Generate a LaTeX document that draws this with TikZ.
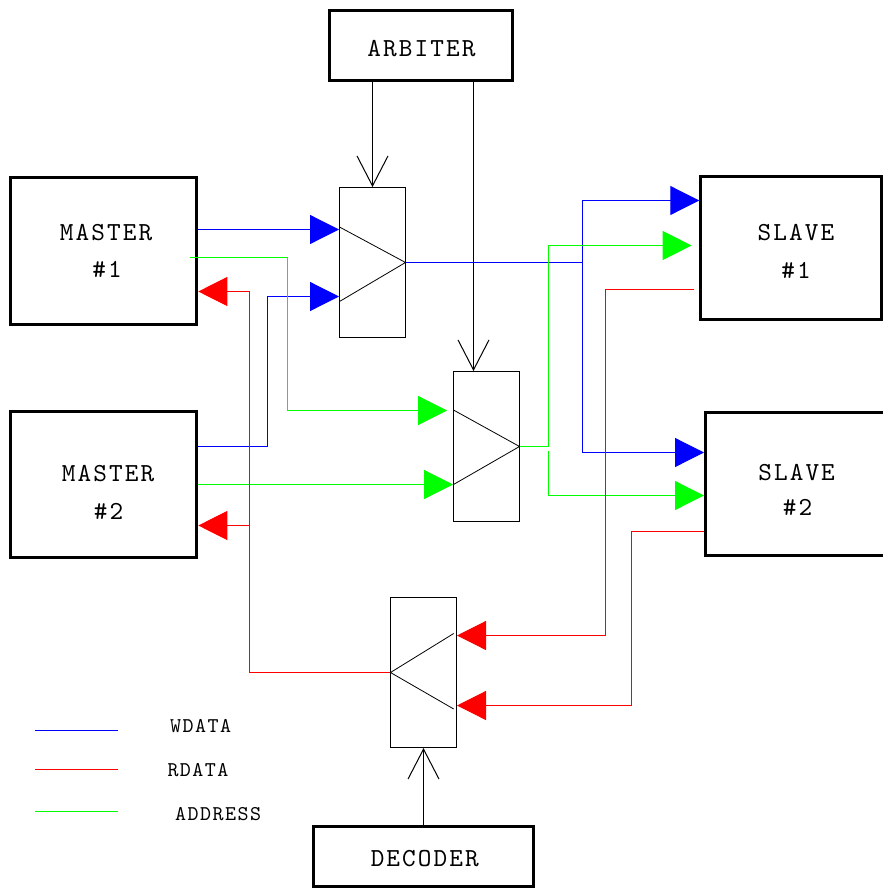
\documentclass[tikz,border=0pt]{standalone}
\usepackage{fontspec}
\usetikzlibrary{arrows.meta}
\newfontfamily\boxfamily{lmmono10-regular.otf}[LetterSpace=8]
\newfontfamily\keyfamily{lmmono10-regular.otf}[LetterSpace=7]
\newcommand{\boxfont}{\boxfamily\fontsize{26}{30}\selectfont}
\newcommand{\keyfont}{\keyfamily\fontsize{21}{25}\selectfont}

\begin{document}
\begin{tikzpicture}[x=1pt,y=-1pt,
    unit/.style={draw,rectangle,line width=3pt,inner sep=0pt},
    mux/.style={draw,rectangle,line width=1pt,inner sep=0pt,minimum width=66pt,minimum height=150pt},
    txt/.style={font=\boxfont,anchor=base,inner sep=0pt},
    key/.style={font=\keyfont,anchor=base west,inner sep=0pt},
    wdata/.style={blue,line width=1.2pt},
    rdata/.style={red,line width=1.2pt},
    addr/.style={green,line width=1.2pt},
    solidtip/.style={-{Triangle[length=29pt,width=29pt]}},
    opentip/.style={line width=1pt,-{Straight Barb[length=30pt,width=31pt]}}]
        \useasboundingbox (0,0) rectangle (883,889);

        % blocks
        \node[unit,minimum width=182.8pt,minimum height=70.8pt] (arb) at (421.1,45.4) {};
        \node[txt] (arbt) at (421.5,56.7) {ARBITER};
        \node[unit,minimum width=186.8pt,minimum height=146.5pt] (m1) at (103.4,250.8) {};
        \node[txt] (m1a) at (106,240) {MASTER};
        \node[txt] (m1b) at (107,277.7) {\#1};
        \node[unit,minimum width=186.6pt,minimum height=146.2pt] (m2) at (103.5,484.4) {};
        \node[txt] (m2a) at (108,481) {MASTER};
        \node[txt] (m2b) at (108.5,519.3) {\#2};
        \node[unit,minimum width=180.5pt,minimum height=143pt] (s1) at (791,247.5) {};
        \node[txt] (s1a) at (796,240.7) {SLAVE};
        \node[txt] (s1b) at (796,278.3) {\#1};
        \node[unit,minimum width=180pt,minimum height=143.1pt] (s2) at (795.5,483.8) {};
        \node[txt] (s2a) at (796.6,480) {SLAVE};
        \node[txt] (s2b) at (797.5,515.7) {\#2};
        \node[unit,minimum width=220pt,minimum height=60pt] (dec) at (423,856.8) {};
        \node[txt] (dect) at (424.8,866) {DECODER};

        % multiplexers
        \node[mux] (mux1) at (372.5,262.5) {};
        \node[mux] (mux2) at (486.5,446.5) {};
        \node[mux] (mux3) at (423.5,672.5) {};
        \draw[line width=0.8pt] (mux1.center) ++(-33,-35.5) -- ++(66,35.5) -- ++(-66,39);
        \draw[line width=0.8pt] (mux2.center) ++(-33,-36.5) -- ++(66,36.5) -- ++(-66,38);
        \draw[line width=0.8pt] (mux3.center) ++(30.2,-39) -- ++(-63.2,39) -- ++(63.2,36.5);

        % select lines
        \draw[opentip] (arb.south -| mux1.north) -- (mux1.north);
        \draw[opentip] (arb.south -| 473.5,0) -- (mux2.north -| 473.5,0);
        \draw[opentip] (dec.north -| mux3.south) -- (mux3.south);

        % write data
        \coordinate (wj) at (582.5,262.5);
        \draw[wdata,solidtip] (m1.east |- 0,229.5) -- (mux1.west |- 0,229.5);
        \draw[wdata,solidtip] (m2.east |- 0,446.5) -| (267.5,296.5) -- (mux1.west |- 0,296.5);
        \draw[wdata] (mux1.east) -- (wj);
        \draw[wdata,solidtip] (wj) |- (s1.west |- 0,200.5);
        \draw[wdata,solidtip] (wj) |- (s2.west |- 0,452.5);

        % address
        \coordinate (ga) at (190,257.5);
        \coordinate (gb) at (548.5,451);
        \draw[addr,solidtip] (ga) -| (287.5,410.5) -- ([xshift=-6pt]mux2.west |- 0,410.5);
        \draw[addr,solidtip] (m2.east |- 0,484.5) -- (mux2.west |- 0,484.5);
        \draw[addr,solidtip] (mux2.east) -| (548.5,245.5) -- ([xshift=-7.6pt]s1.west |- 0,245.5);
        \draw[addr,solidtip] (gb) |- (s2.west |- 0,495.5);

        % read data
        \coordinate (rj) at (249.5,525.5);
        \draw[rdata,solidtip] (mux3.west) -| (249.5,291.5) -- (m1.east |- 0,291.5);
        \draw[rdata,solidtip] (rj) -- (m2.east |- 0,525.5);
        \draw[rdata,solidtip] ([xshift=-5pt]s1.west |- 0,289.5) -| (605.5,635.5) -- (mux3.east |- 0,635.5);
        \draw[rdata,solidtip] (s2.west |- 0,531.5) -| (631.5,705.5) -- (mux3.east |- 0,705.5);

        % legend
        \draw[wdata,line width=1pt] (35,730.5) -- (118,730.5);
        \draw[rdata,line width=1pt] (35,769.5) -- (118,769.5);
        \draw[addr,line width=1pt] (35,811.5) -- (118,811.5);
        \node[key] (kw) at (170,732.3) {WDATA};
        \node[key] (kr) at (167.3,776) {RDATA};
        \node[key] (ka) at (175,820.7) {ADDRESS};
    \end{tikzpicture}
\end{document}
